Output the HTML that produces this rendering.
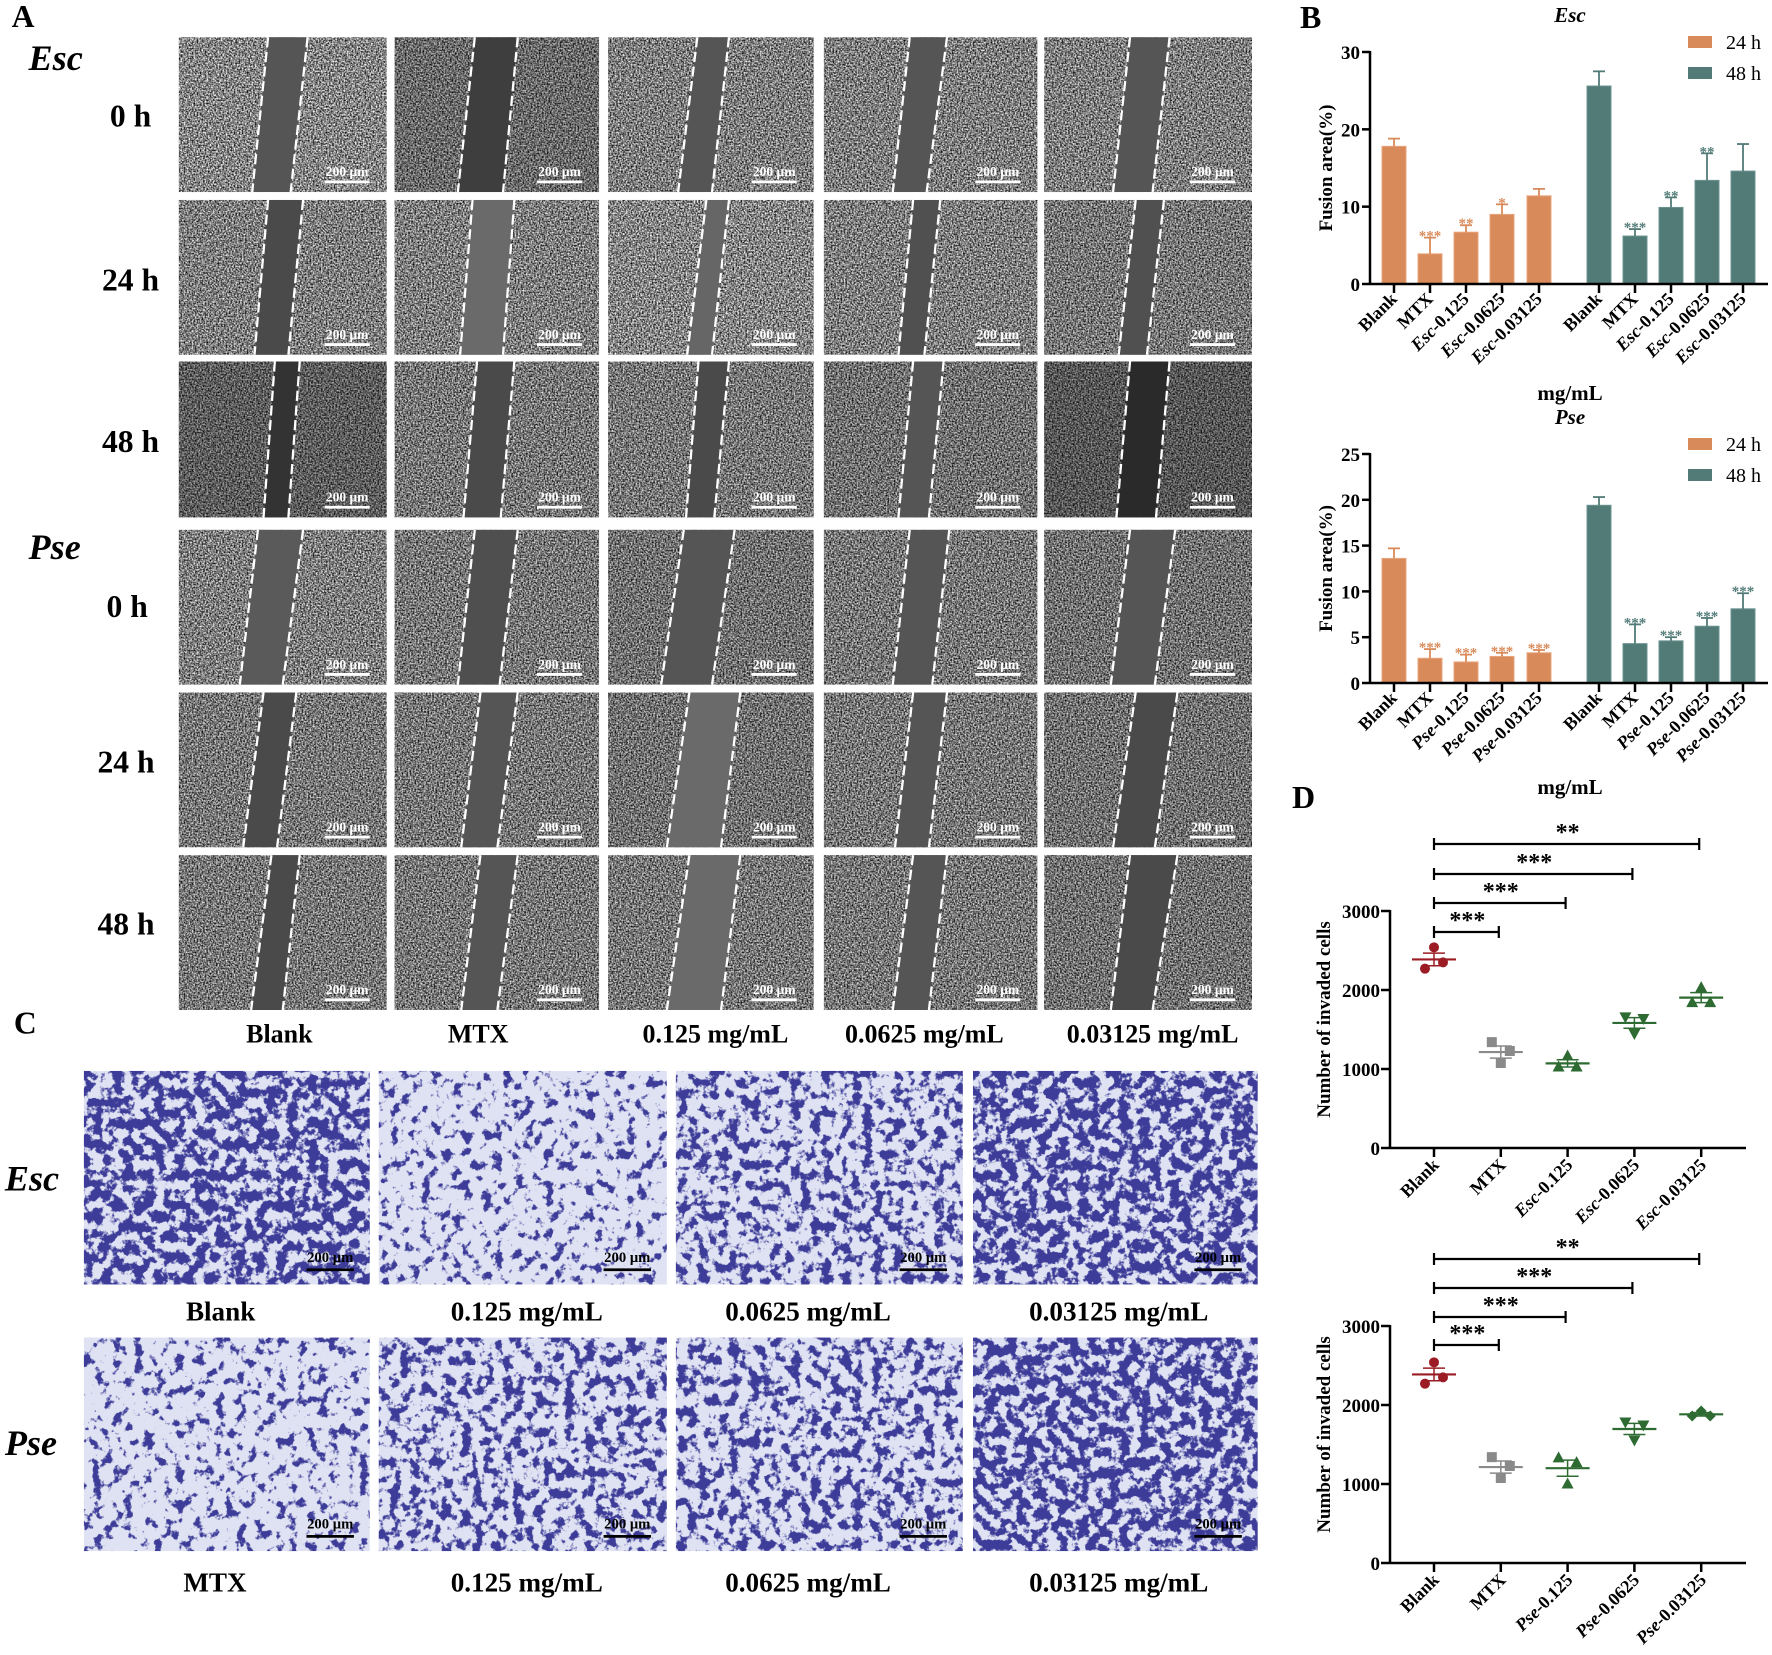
<!DOCTYPE html>
<html><head><meta charset="utf-8">
<style>
html,body{margin:0;padding:0;background:#fff;}
#wrap{position:relative;width:1772px;height:1655px;overflow:hidden;}
svg text{font-family:"Liberation Serif",serif;}
</style></head>
<body>
<div id="wrap">
<svg id="photos" width="1772" height="1655" viewBox="0 0 1568 1465" style="position:absolute;left:0;top:0">
<defs>
<filter id="gnoise" x="0" y="0" width="100%" height="100%" color-interpolation-filters="sRGB">
<feTurbulence type="fractalNoise" baseFrequency="0.7" numOctaves="2" seed="3" result="t"/>
<feColorMatrix in="t" type="matrix" values="1.7 0 0 0 -0.33  1.7 0 0 0 -0.33  1.7 0 0 0 -0.33  0 0 0 0 1" result="g"/>
<feComposite in="g" in2="SourceGraphic" operator="in"/>
</filter>
<filter id="cells1" x="0" y="0" width="100%" height="100%" color-interpolation-filters="sRGB">
<feTurbulence type="fractalNoise" baseFrequency="0.11" numOctaves="4" seed="5" result="t"/>
<feColorMatrix in="t" type="matrix" values="0 0 0 0 0.24  0 0 0 0 0.24  0 0 0 0 0.6  10 0 0 0 -4.4" result="c"/>
<feComposite in="c" in2="SourceGraphic" operator="in"/>
</filter>
<filter id="cells2" x="0" y="0" width="100%" height="100%" color-interpolation-filters="sRGB">
<feTurbulence type="fractalNoise" baseFrequency="0.11" numOctaves="4" seed="9" result="t"/>
<feColorMatrix in="t" type="matrix" values="0 0 0 0 0.24  0 0 0 0 0.24  0 0 0 0 0.6  10 0 0 0 -5.6" result="c"/>
<feComposite in="c" in2="SourceGraphic" operator="in"/>
</filter>
<filter id="cells3" x="0" y="0" width="100%" height="100%" color-interpolation-filters="sRGB">
<feTurbulence type="fractalNoise" baseFrequency="0.11" numOctaves="4" seed="13" result="t"/>
<feColorMatrix in="t" type="matrix" values="0 0 0 0 0.24  0 0 0 0 0.24  0 0 0 0 0.6  10 0 0 0 -5.0" result="c"/>
<feComposite in="c" in2="SourceGraphic" operator="in"/>
</filter>
</defs>
<g id="panelA"></g>
<g id="panelC"></g>
</svg>
<svg id="charts" width="1772" height="1655" viewBox="0 0 1772 1655" style="position:absolute;left:0;top:0"></svg>
</div>
<script>
// ---------- chart data ----------
const bCategoriesEsc = ["Blank","MTX","Esc-0.125","Esc-0.0625","Esc-0.03125"];
const bCategoriesPse = ["Blank","MTX","Pse-0.125","Pse-0.0625","Pse-0.03125"];
const escFusion24 = [17.8,3.9,6.7,9.0,11.4];
const escFusion24Err = [1.0,2.1,0.9,1.3,0.9];
const escFusion48 = [25.6,6.2,9.9,13.4,14.6];
const escFusion48Err = [1.9,0.9,1.3,3.5,3.5];
const escStars24 = ["","***","**","*",""];
const escStars48 = ["","***","**","**",""];
const pseFusion24 = [13.6,2.7,2.3,2.9,3.3];
const pseFusion24Err = [1.1,1.0,0.8,0.4,0.3];
const pseFusion48 = [19.4,4.3,4.6,6.2,8.1];
const pseFusion48Err = [0.9,2.1,0.4,0.9,1.7];
const pseStars24 = ["","***","***","***","***"];
const pseStars48 = ["","***","***","***","***"];
const escTicks = [0,10,20,30];
const pseTicks = [0,5,10,15,20,25];
const dTicks = [0,1000,2000,3000];
const escInvaded = [[2270,2540,2350],[1340,1076,1228],[1025,1164,1025],[1660,1450,1640],[1840,2030,1840]];
const pseInvaded = [[2270,2540,2350],[1340,1076,1228],[1330,1000,1270],[1785,1557,1747],[1861,1924,1861]];
const dBracketEnds = [1,2,3,4];
const escBracketStars = ["***","***","***","**"];
const pseBracketStars = ["***","***","***","**"];

const NS="http://www.w3.org/2000/svg";
function mk(parent,tag,attrs,text){const e=document.createElementNS(NS,tag);for(const k in attrs)e.setAttribute(k,attrs[k]);if(text!==undefined)e.textContent=text;parent.appendChild(e);return e;}

// ---------- Panel A ----------
const A=document.getElementById('panelA');
const cols=[[158,342],[349,530],[538,720],[729,918],[924,1108]];
const rows=[[33,170],[177,314],[320,458],[469,606],[613,750],[757,894]];
const stripes=[
[[237,272,223,257],[420,458,405,445],[617,645,600,630],[805,838,790,820],[1000,1035,985,1020]],
[[237,268,225,255],[418,455,407,445],[625,645,608,630],[808,832,795,818],[1005,1030,990,1015]],
[[243,265,233,255],[422,455,410,443],[618,645,607,632],[808,835,795,822],[1000,1035,988,1023]],
[[228,268,212,250],[420,458,405,442],[605,650,585,630],[805,840,790,825],[1000,1040,983,1022]],
[[233,262,215,245],[425,458,408,440],[610,655,590,638],[808,838,792,822],[1005,1042,985,1022]],
[[240,265,222,250],[425,458,408,440],[610,655,590,638],[808,838,790,822],[1000,1042,983,1020]]];
const stripeCol=[["#555","#3e3e3e","#555","#555","#555"],["#4a4a4a","#6a6a6a","#666","#505050","#505050"],["#333","#4a4a4a","#4a4a4a","#555","#2a2a2a"],["#5a5a5a","#4f4f4f","#555","#555","#555"],["#4a4a4a","#555","#6a6a6a","#555","#4a4a4a"],["#4a4a4a","#555","#6a6a6a","#555","#4a4a4a"]];
const tileShade=[[0.0,0.2,0.05,0.05,0.05],[0.05,0.05,0.0,0.05,0.1],[0.3,0.1,0.1,0.15,0.35],[0.05,0.1,0.15,0.1,0.15],[0.1,0.1,0.15,0.1,0.15],[0.1,0.1,0.1,0.1,0.15]];
rows.forEach((r,ri)=>cols.forEach((c,ci)=>{
  const g=mk(A,'g',{});
  
  
  mk(g,'rect',{x:c[0],y:r[0],width:c[1]-c[0],height:r[1]-r[0],fill:'#fff',filter:'url(#gnoise)'});
  mk(g,'rect',{x:c[0],y:r[0],width:c[1]-c[0],height:r[1]-r[0],fill:'#000',opacity:tileShade[ri][ci]});
  const s=stripes[ri][ci];
  mk(g,'polygon',{points:`${s[0]},${r[0]} ${s[1]},${r[0]} ${s[3]},${r[1]} ${s[2]},${r[1]}`,fill:stripeCol[ri][ci]});
  mk(g,'line',{x1:s[0],y1:r[0],x2:s[2],y2:r[1],stroke:'#fff','stroke-width':2,'stroke-dasharray':'9 4'});
  mk(g,'line',{x1:s[1],y1:r[0],x2:s[3],y2:r[1],stroke:'#fff','stroke-width':2,'stroke-dasharray':'9 4'});
  mk(g,'text',{x:c[1]-35,y:r[1]-14,'font-size':12,'font-weight':'bold',fill:'#fff','text-anchor':'middle'},'200 μm');
  mk(g,'line',{x1:c[1]-55,y1:r[1]-9,x2:c[1]-15,y2:r[1]-9,stroke:'#fff','stroke-width':2.5});
}));
const aLabels=[["A",10,24,28,"normal"],["Esc",25,62,32,"italic"],["0 h",97,112,28,"normal"],["24 h",90,257,28,"normal"],["48 h",90,400,28,"normal"],["Pse",25,495,32,"italic"],["0 h",94,546,28,"normal"],["24 h",86,684,28,"normal"],["48 h",86,827,28,"normal"]];
aLabels.forEach(l=>{const t=mk(A,'text',{x:l[1],y:l[2],'font-size':l[3],'font-weight':'bold','font-style':l[4]},l[0]);});
[["Blank",247],["MTX",423],["0.125 mg/mL",633],["0.0625 mg/mL",818],["0.03125 mg/mL",1020]].forEach(l=>{const t=mk(A,'text',{x:l[1],y:923,'font-size':23,'font-weight':'bold','text-anchor':'middle'},l[0]);});

// ---------- Panel C ----------
const C=document.getElementById('panelC');
const ccols=[[74,327],[335,590],[598,852],[861,1113]];
const crows=[[948,1137],[1184,1373]];
const dens=[["cells1","cells2","cells3","cells1"],["cells2","cells3","cells3","cells1"]];
crows.forEach((r,ri)=>ccols.forEach((c,ci)=>{
  const g=mk(C,'g',{});
  
  
  mk(g,'rect',{x:c[0],y:r[0],width:c[1]-c[0],height:r[1]-r[0],fill:'#dfe2f2'});
  mk(g,'rect',{x:c[0],y:r[0],width:c[1]-c[0],height:r[1]-r[0],fill:'#fff',filter:'url(#'+dens[ri][ci]+')'});
  mk(g,'text',{x:c[1]-35,y:r[1]-20,'font-size':13,'font-weight':'bold',fill:'#000','text-anchor':'middle'},'200 μm');
  mk(g,'line',{x1:c[1]-56,y1:r[1]-13,x2:c[1]-14,y2:r[1]-13,stroke:'#000','stroke-width':2.5});
}));
[["C",12,915,28,"normal","start"],["Esc",4,1054,32,"italic","start"],["Pse",4,1288,32,"italic","start"],
 ["Blank",195,1169,24,"normal","middle"],["0.125 mg/mL",466,1169,24,"normal","middle"],["0.0625 mg/mL",715,1169,24,"normal","middle"],["0.03125 mg/mL",990,1169,24,"normal","middle"],
 ["MTX",190,1409,24,"normal","middle"],["0.125 mg/mL",466,1409,24,"normal","middle"],["0.0625 mg/mL",715,1409,24,"normal","middle"],["0.03125 mg/mL",990,1409,24,"normal","middle"]].forEach(l=>{
  const t=mk(C,'text',{x:l[1],y:l[2],'font-size':l[3],'font-weight':'bold','font-style':l[4],'text-anchor':l[5]},l[0]);
  });

// ---------- Charts ----------
const S=document.getElementById('charts');
function catLabel(g,x,y,label){
  const t=mk(g,'text',{transform:`translate(${x},${y}) rotate(-45)`,'text-anchor':'end','font-size':18,'font-weight':'bold'});
  const m=label.match(/^(Esc|Pse)(-.*)$/);
  if(m){mk(t,'tspan',{'font-style':'italic'},m[1]);mk(t,'tspan',{},m[2]);}else t.textContent=label;
  
}
function barChart(name,oy,y0,yTop,maxV,ticks,cats,v24,e24,v48,e48,s24,s48,title,titleY){
  const g=mk(S,'g',{});
  
  const ax=1370, xEnd=1768;
  const yS=v=>y0-(v/maxV)*(y0-yTop);
  const cx=[1394,1430,1466,1502,1539,1599,1635,1671,1707,1743];
  const bw=24;
  const series=[[v24,e24,s24,'#d98a5a','#e8a57c'],[v48,e48,s48,'#527b78','#6c9390']];
  series.forEach((sr,si)=>sr[0].forEach((v,i)=>{
    const x=cx[si*5+i];
    const b=mk(g,'rect',{x:x-bw/2,y:yS(v),width:bw,height:y0-yS(v),fill:sr[3],stroke:sr[4],'stroke-width':1});
    
    const et=yS(v+sr[1][i]);
    mk(g,'line',{x1:x,y1:yS(v),x2:x,y2:et,stroke:sr[3],'stroke-width':1.8});
    mk(g,'line',{x1:x-6,y1:et,x2:x+6,y2:et,stroke:sr[3],'stroke-width':1.8});
    if(sr[2][i]){const st=mk(g,'text',{x:x,y:et+3,'text-anchor':'middle','font-size':15,'font-weight':'bold',fill:sr[3]},sr[2][i]);}
  }));
  mk(g,'line',{x1:ax,y1:yTop-1,x2:ax,y2:y0+1,stroke:'#000','stroke-width':2.5});
  mk(g,'line',{x1:ax,y1:y0,x2:xEnd,y2:y0,stroke:'#000','stroke-width':2.5});
  ticks.forEach(t=>{mk(g,'line',{x1:ax-8,y1:yS(t),x2:ax,y2:yS(t),stroke:'#000','stroke-width':2.5});
    const tl=mk(g,'text',{x:ax-10,y:yS(t)+7,'text-anchor':'end','font-size':19,'font-weight':'bold'},String(t));});
  cx.forEach((x,i)=>{mk(g,'line',{x1:x,y1:y0,x2:x,y2:y0+9,stroke:'#000','stroke-width':2.5});catLabel(g,x+4,y0+16,cats[i%5]);});
  const yt=mk(g,'text',{transform:`translate(1332,${(y0+yTop)/2}) rotate(-90)`,'text-anchor':'middle','font-size':19,'font-weight':'bold'},'Fusion area(%)');
  
  const tt=mk(g,'text',{x:1570,y:titleY,'text-anchor':'middle','font-size':21,'font-weight':'bold','font-style':'italic'},title);
  
  [['24 h','#d98a5a',yTop-16],['48 h','#527b78',yTop+15]].forEach(l=>{
    const lg=mk(g,'g',{});
    mk(lg,'rect',{x:1688,y:l[2],width:24,height:12,fill:l[1]});
    mk(lg,'text',{x:1726,y:l[2]+13,'font-size':20},l[0]);
  });
}
barChart('bar-chart-esc',0,284,52,30,escTicks,bCategoriesEsc,escFusion24,escFusion24Err,escFusion48,escFusion48Err,escStars24,escStars48,'Esc',22);
barChart('bar-chart-pse',390,683,454,25,pseTicks,bCategoriesPse,pseFusion24,pseFusion24Err,pseFusion48,pseFusion48Err,pseStars24,pseStars48,'Pse',424);
[['mg/mL',1570,400],['mg/mL',1570,794]].forEach(l=>{const t=mk(S,'text',{x:l[1],y:l[2],'text-anchor':'middle','font-size':21,'font-weight':'bold'},l[0]);});
[['B',1300,28],['D',1292,808]].forEach(l=>{const t=mk(S,'text',{x:l[1],y:l[2],'font-size':32,'font-weight':'bold'},l[0]);});

function dotChart(name,y0,y3000,cats,data,stars,brY){
  const g=mk(S,'g',{});
  
  const ax=1390,xEnd=1746;
  const yS=v=>y0-(v/3000)*(y0-y3000);
  const xS=i=>1434+i*66.8;
  const colors=['#9b1c24','#8a8a8a','#2e6b32','#2e6b32','#2e6b32'];
  const shapes=['circle','square','up','down', name.includes('pse')?'diamond':'up'];
  data.forEach((pts,i)=>{
    const col=colors[i],x=xS(i);
    const mean=pts.reduce((a,b)=>a+b,0)/pts.length;
    const sd=Math.sqrt(pts.reduce((a,b)=>a+(b-mean)**2,0)/(pts.length-1));
    const se=sd/Math.sqrt(pts.length);
    const offs=[-9,0,9];
    pts.forEach((v,k)=>{
      const px=x+offs[k],py=yS(v);let m;
      const sh=shapes[i];
      if(sh==='circle')m=mk(g,'circle',{cx:px,cy:py,r:5,fill:col});
      else if(sh==='square')m=mk(g,'rect',{x:px-5,y:py-5,width:10,height:10,fill:col});
      else if(sh==='up')m=mk(g,'polygon',{points:`${px},${py-6.5} ${px-6},${py+4.5} ${px+6},${py+4.5}`,fill:col});
      else if(sh==='down')m=mk(g,'polygon',{points:`${px},${py+6.5} ${px-6},${py-4.5} ${px+6},${py-4.5}`,fill:col});
      else m=mk(g,'polygon',{points:`${px},${py-5.5} ${px+5.5},${py} ${px},${py+5.5} ${px-5.5},${py}`,fill:col});
      
    });
    mk(g,'line',{x1:x-22,y1:yS(mean),x2:x+22,y2:yS(mean),stroke:col,'stroke-width':2.2});
    mk(g,'line',{x1:x,y1:yS(mean+se),x2:x,y2:yS(mean-se),stroke:col,'stroke-width':1.5});
    mk(g,'line',{x1:x-11,y1:yS(mean+se),x2:x+11,y2:yS(mean+se),stroke:col,'stroke-width':1.5});
    mk(g,'line',{x1:x-11,y1:yS(mean-se),x2:x+11,y2:yS(mean-se),stroke:col,'stroke-width':1.5});
  });
  mk(g,'line',{x1:ax,y1:y3000-1,x2:ax,y2:y0+1,stroke:'#000','stroke-width':2.5});
  mk(g,'line',{x1:ax,y1:y0,x2:xEnd,y2:y0,stroke:'#000','stroke-width':2.5});
  dTicks.forEach(t=>{mk(g,'line',{x1:ax-9,y1:yS(t),x2:ax,y2:yS(t),stroke:'#000','stroke-width':2.5});
    const tl=mk(g,'text',{x:ax-10,y:yS(t)+7,'text-anchor':'end','font-size':19,'font-weight':'bold'},String(t));});
  cats.forEach((c,i)=>{mk(g,'line',{x1:xS(i),y1:y0,x2:xS(i),y2:y0+9,stroke:'#000','stroke-width':2.5});catLabel(g,xS(i)+6,y0+18,c);});
  dBracketEnds.forEach((e,k)=>{
    const by=brY[k];
    const bg=mk(g,'g',{});
    mk(bg,'line',{x1:xS(0),y1:by,x2:xS(e)-2,y2:by,stroke:'#000','stroke-width':2.2});
    mk(bg,'line',{x1:xS(0),y1:by-6,x2:xS(0),y2:by+6,stroke:'#000','stroke-width':2.2});
    mk(bg,'line',{x1:xS(e)-2,y1:by-6,x2:xS(e)-2,y2:by+6,stroke:'#000','stroke-width':2.2});
    mk(bg,'text',{x:(xS(0)+xS(e))/2,y:by-4,'text-anchor':'middle','font-size':24,'font-weight':'bold'},stars[k]);
  });
  const yt=mk(g,'text',{transform:`translate(1330,${(y0+y3000)/2-10}) rotate(-90)`,'text-anchor':'middle','font-size':19,'font-weight':'bold'},'Number of invaded cells');
  
}
dotChart('dot-chart-esc',1148,911,bCategoriesEsc,escInvaded,escBracketStars,[932,903,874,844]);
dotChart('dot-chart-pse',1563,1326,bCategoriesPse,pseInvaded,pseBracketStars,[1345,1317,1288,1259]);
</script>
</body></html>
